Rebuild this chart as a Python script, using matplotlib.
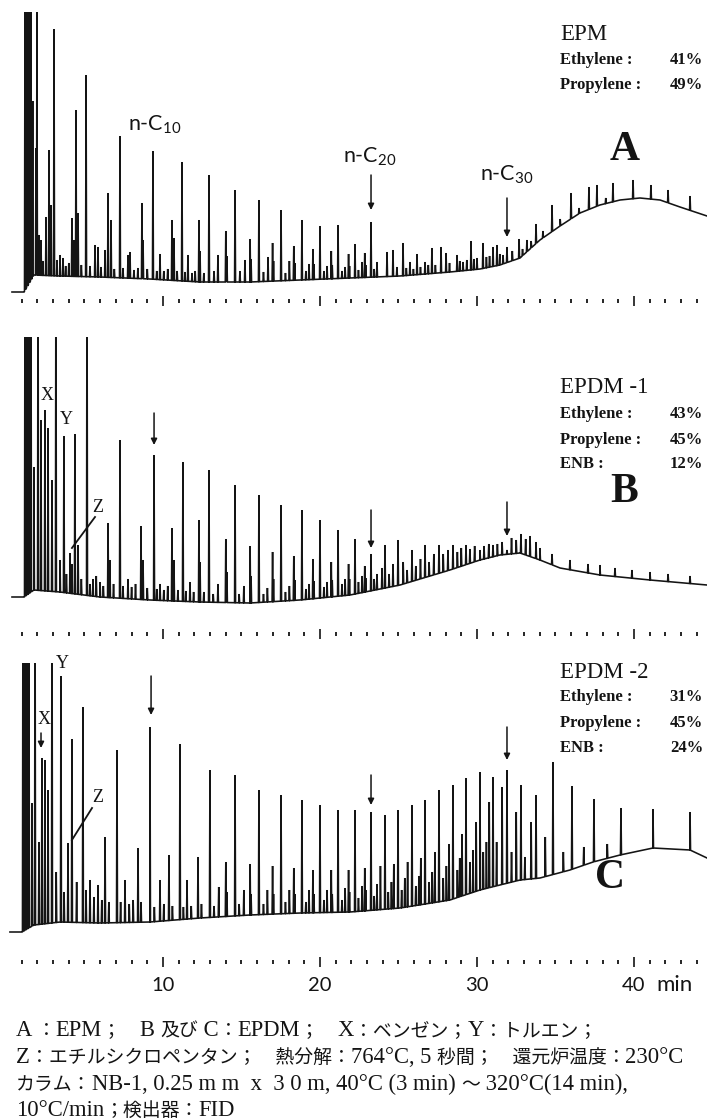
import numpy as np
import matplotlib
matplotlib.use("Agg")
import matplotlib.pyplot as plt
from matplotlib import transforms

plt.rcParams["mathtext.fontset"] = "custom"
plt.rcParams["mathtext.rm"] = "Lato"
plt.rcParams["mathtext.it"] = "Lato"

# ---------------- time axis (min) ----------------
tick_minutes = list(range(1, 45))
major_minutes = [10, 20, 30, 40]
major_labels = ["10", "20", "30", "40"]
time_unit = "min"

# ---------------- Panel A : EPM ----------------
A_base_t = [0.38, 1.15, 1.78, 3.44, 5.99, 9.17, 12.36, 15.54, 18.73, 21.91, 25.10, 28.28,
            30.19, 31.46, 32.74, 34.01, 35.29, 36.56, 37.83, 39.11, 40.38, 41.66, 42.93, 44.65]
A_base_s = [9, 9, 26, 25, 24, 22, 19, 19, 21, 23, 25, 29,
            32, 36, 43, 61, 75, 88, 96, 101, 103, 101, 94, 85]
A_peak_t = [1.21, 1.34, 1.46, 1.59, 1.70, 1.91, 1.97, 2.10, 2.23, 2.35, 2.55, 2.74, 2.87, 3.06,
            3.25, 3.44, 3.63, 3.80, 4.00, 4.20, 4.33, 4.46, 4.59, 4.80, 5.10, 5.35, 5.67, 5.86,
            6.05, 6.31, 6.50, 6.69, 6.90, 7.26, 7.45, 7.77, 7.90, 8.15, 8.40, 8.66, 8.73, 9.00,
            9.36, 9.60, 9.81, 10.05, 10.30, 10.57, 10.70, 10.90, 11.21, 11.40, 11.59, 11.85,
            12.05, 12.29, 12.36, 12.60, 12.93, 13.25, 13.50,
            14.00, 14.07, 14.59, 14.90, 15.22, 15.55, 15.61, 16.11, 16.40, 16.69,
            16.98, 17.04, 17.52, 17.80, 18.05, 18.33, 18.39, 18.85, 19.10, 19.30,
            19.55, 19.61, 20.00, 20.25, 20.45, 20.72, 20.78, 21.15, 21.40, 21.60,
            21.82, 21.88, 22.23, 22.45, 22.68, 22.85, 22.91, 23.25, 23.45, 23.63,
            24.27, 24.65, 24.90, 25.29, 25.50, 25.73, 25.95, 26.18, 26.40, 26.69, 26.90, 27.13,
            27.35, 27.71, 28.03, 28.25, 28.73, 28.90, 29.11, 29.35, 29.62, 29.80, 30.00, 30.38,
            30.60, 30.80, 31.02, 31.27, 31.45, 31.66, 31.91, 32.25, 32.68, 32.90, 33.18, 33.45,
            33.76, 34.20, 34.78, 35.30, 35.99, 36.50, 37.13, 37.64, 38.20, 38.66, 39.94, 41.08,
            42.17, 43.57]
A_peak_s = [320, 320, 320, 320, 200, 153, 290, 66, 61, 40, 84, 151, 96, 272,
            41, 46, 43, 35, 38, 83, 61, 191, 88, 36, 226, 35, 56, 54,
            34, 51, 108, 81, 32, 165, 33, 46, 49, 31, 33, 98, 61, 32,
            150, 30, 47, 30, 32, 81, 63, 30, 139, 29, 46, 28,
            30, 81, 50, 28, 126, 30, 46,
            70, 45, 111, 30, 41, 62, 42, 101, 29, 44,
            58, 40, 91, 28, 40, 55, 38, 81, 30, 37,
            52, 37, 75, 30, 35, 50, 36, 76, 30, 34,
            47, 35, 57, 31, 39, 48, 36, 79, 32, 39,
            49, 51, 34, 58, 33, 39, 32, 47, 34, 39, 36, 53,
            36, 54, 48, 38, 46, 40, 39, 41, 60, 42, 43, 58,
            44, 45, 54, 56, 47, 46, 54, 50, 62, 52, 61, 60,
            77, 70, 96, 82, 108, 93, 114, 116, 103, 118, 121, 116,
            111, 105]

# ---------------- Panel B : EPDM-1 ----------------
B_base_t = [0.38, 1.15, 1.78, 3.44, 5.99, 9.17, 12.36, 15.54, 18.73, 21.91, 25.10, 28.28,
            30.19, 31.46, 32.74, 34.01, 35.29, 37.83, 41.02, 44.65]
B_base_s = [37, 37, 44, 42, 37, 34, 32, 31, 34, 39, 49, 64,
            74, 79, 81, 74, 66, 59, 54, 49]
B_peak_t = [1.21, 1.34, 1.46, 1.59, 1.78, 2.04, 2.23, 2.48, 2.68, 2.93, 3.18, 3.44, 3.69, 3.85,
            4.08, 4.20, 4.39, 4.59, 4.80, 5.16, 5.35, 5.54, 5.75, 5.99, 6.20, 6.50, 6.62, 6.85,
            7.26, 7.45, 7.77, 8.00, 8.25, 8.60, 8.73, 9.00, 9.43, 9.60, 9.81, 10.05, 10.30,
            10.57, 10.70, 10.95, 11.27, 11.45, 11.72, 11.95, 12.29, 12.36, 12.60, 12.93, 13.20,
            13.50,
            14.00, 14.07, 14.59, 14.85, 15.15, 15.55, 15.61, 16.11, 16.40, 16.65,
            16.98, 17.04, 17.52, 17.80, 18.05, 18.33, 18.39, 18.85, 19.10, 19.30,
            19.55, 19.61, 20.00, 20.25, 20.45, 20.72, 20.78, 21.15, 21.40, 21.60,
            21.82, 21.88, 22.23, 22.45, 22.68, 22.85, 22.91, 23.25, 23.45, 23.63,
            23.95, 24.14, 24.40, 24.65, 24.97, 25.30, 25.55, 25.86, 26.10, 26.40, 26.69, 26.95,
            27.25, 27.58, 27.85, 28.15, 28.47, 28.75, 29.00, 29.30, 29.55, 29.85, 30.19, 30.45,
            30.75, 31.02, 31.30, 31.60, 31.91, 32.20, 32.50, 32.80, 33.10, 33.38, 33.76,
            34.01, 34.78, 35.92, 37.07, 37.83, 38.79, 39.87, 41.02, 42.17, 43.57]
B_peak_s = [400, 400, 400, 400, 167, 400, 214, 224, 206, 154, 400, 74, 198, 60,
            81, 70, 200, 89, 55, 400, 50, 55, 58, 52, 48, 111, 74, 50,
            194, 48, 55, 47, 50, 108, 74, 46, 179, 45, 50, 44, 48,
            106, 74, 44, 172, 43, 52, 42, 114, 72, 42, 164, 40,
            50,
            95, 62, 149, 40, 48, 88, 58, 139, 40, 46,
            82, 55, 129, 42, 48, 78, 54, 124, 45, 50,
            75, 53, 114, 47, 52, 72, 54, 104, 50, 55,
            70, 55, 95, 52, 58, 68, 56, 80, 55, 60,
            66, 89, 60, 70, 94, 72, 64, 84, 68, 75, 89, 72,
            80, 89, 80, 84, 89, 82, 86, 89, 85, 88, 84, 88,
            90, 89, 90, 92, 84, 96, 94, 100, 95, 98, 92,
            86, 80, 74, 70, 69, 66, 64, 62, 60, 58]

# ---------------- Panel C : EPDM-2 ----------------
C_base_t = [0.25, 1.02, 1.78, 3.44, 5.99, 9.17, 12.36, 15.54, 18.73, 21.91, 25.10, 28.28,
            30.19, 31.46, 32.74, 34.01, 35.92, 37.39, 39.11, 41.21, 43.57, 44.65]
C_base_s = [30, 30, 37, 40, 39, 40, 44, 47, 49, 50, 54, 62,
            72, 77, 82, 84, 92, 100, 107, 114, 112, 104]
C_peak_t = [1.08, 1.21, 1.34, 1.46, 1.66, 1.85, 2.10, 2.29, 2.48, 2.68, 2.93, 3.20, 3.50, 3.70,
            3.95, 4.20, 4.50, 4.90, 5.10, 5.35, 5.60, 5.86, 6.10, 6.31, 6.55, 7.07, 7.30, 7.58,
            7.85, 8.10, 8.41, 8.60, 9.17, 9.45, 9.81, 10.05, 10.38, 10.60, 11.08, 11.30, 11.53,
            11.80, 12.23, 12.45, 12.99, 13.25, 13.55,
            14.00, 14.07, 14.59, 14.85, 15.15, 15.55, 15.61, 16.11, 16.40, 16.65,
            16.98, 17.04, 17.52, 17.80, 18.05, 18.33, 18.39, 18.85, 19.10, 19.30,
            19.55, 19.61, 20.00, 20.25, 20.45, 20.72, 20.78, 21.15, 21.40, 21.60,
            21.82, 21.88, 22.23, 22.45, 22.68, 22.85, 22.91, 23.25, 23.45, 23.63,
            23.85, 24.14, 24.35, 24.55, 24.70, 24.97, 25.20, 25.40, 25.58, 25.86, 26.10, 26.30,
            26.42, 26.69, 26.95, 27.15, 27.32, 27.58, 27.85, 28.05, 28.22, 28.47, 28.75, 28.90,
            29.05, 29.30, 29.55, 29.75, 29.95, 30.19, 30.40, 30.60, 30.78, 31.02, 31.25, 31.60,
            31.91, 32.20, 32.50, 32.80, 33.05, 33.45, 33.76,
            34.35, 34.84, 35.50, 36.05, 36.80, 37.45, 38.30, 39.17, 41.21, 43.57]
C_peak_s = [400, 400, 400, 400, 159, 400, 120, 204, 202, 172, 400, 90, 286, 70,
            119, 223, 80, 255, 72, 82, 65, 77, 62, 125, 60, 212, 60, 82,
            58, 62, 114, 60, 235, 55, 82, 58, 107, 56, 218, 55, 82,
            56, 105, 58, 192, 56, 75,
            100, 70, 187, 58, 72, 98, 68, 172, 58, 72,
            96, 68, 167, 60, 72, 94, 68, 162, 60, 72,
            92, 68, 157, 62, 72, 92, 68, 152, 62, 74,
            92, 70, 152, 64, 76, 94, 72, 150, 66, 78,
            96, 147, 70, 80, 98, 152, 72, 84, 100, 157, 76, 86,
            104, 162, 80, 90, 110, 172, 84, 96, 118, 177, 92, 104,
            128, 184, 100, 112, 140, 190, 110, 120, 160, 185, 120, 175,
            192, 110, 150, 177, 105, 140, 167,
            125, 200, 110, 176, 115, 163, 118, 154, 153, 150]

# ---------------- composition legends ----------------
panel_names = ["EPM", "EPDM -1", "EPDM -2"]
panel_letters = ["A", "B", "C"]
comp_labels = [["Ethylene :", "Propylene :"],
               ["Ethylene :", "Propylene :", "ENB :"],
               ["Ethylene :", "Propylene :", "ENB :"]]
comp_values = [["41%", "49%"], ["43%", "45%", "12%"], ["31%", "45%", "24%"]]

caption_lines = [
    "A ：EPM；　B 及び C：EPDM；　X：ベンゼン；Y：トルエン；",
    "Z：エチルシクロペンタン；　熱分解：764°C, 5 秒間；　還元炉温度：230°C",
    "カラム：NB-1, 0.25 m m  x  3 0 m, 40°C (3 min) ～ 320°C(14 min),",
    "10°C/min；検出器：FID",
]

# ---------------- figure ----------------
W, H, DPI = 707, 1120, 100
fig = plt.figure(figsize=(W / DPI, H / DPI), dpi=DPI)
fig.patch.set_facecolor("white")

XMIN, XMAX = -0.382, 44.65
ink = "#141414"
frames = [(12, 301), (337, 634), (663, 962)]   # (top, bottom) pixel rows of each panel


def make_axes(top, bot):
    ax = fig.add_axes([0, 1 - bot / H, 1, (bot - top) / H])
    ax.set_xlim(XMIN, XMAX)
    ax.set_ylim(0, bot - top)
    for sp in ax.spines.values():
        sp.set_visible(False)
    ax.set_yticks([])
    ax.set_xticks(major_minutes)
    ax.set_xticks([m for m in tick_minutes if m not in major_minutes], minor=True)
    ax.tick_params(axis="x", which="minor", direction="inout", length=3.5, width=1.3, color=ink)
    ax.tick_params(axis="x", which="major", direction="inout", length=7, width=1.2, color=ink)
    ax.set_xticklabels([])
    ax.patch.set_alpha(0)
    return ax


def draw_trace(ax, bt, bs, pt, ps, w=0.032):
    pts = list(zip(bt, bs))
    for t, s in zip(pt, ps):
        b0 = float(np.interp(t - w, bt, bs))
        b1 = float(np.interp(t + w, bt, bs))
        pts += [(t - w, b0), (t, s), (t + w, b1)]
    pts.sort(key=lambda p: p[0])
    xs, ys = zip(*pts)
    ax.plot(xs, ys, color=ink, lw=1.15, solid_joinstyle="miter")


axes = [make_axes(*f) for f in frames]
data = [(A_base_t, A_base_s, A_peak_t, A_peak_s),
        (B_base_t, B_base_s, B_peak_t, B_peak_s),
        (C_base_t, C_base_s, C_peak_t, C_peak_s)]
for ax, d in zip(axes, data):
    draw_trace(ax, *d)

serif = "Liberation Serif"
sans = "Lato"
cjk = "Noto Sans CJK JP"

legend_rows = [[266, 241, 216], [246, 220, 194, 170], [290, 265, 239, 214]]
letter_pos = [(39.4, 151), (39.4, 142), (38.5, 84)]
for i, ax in enumerate(axes):
    rows = legend_rows[i]
    ax.text(35.3, rows[0], panel_names[i], family=serif, fontsize=16.5,
            ha="left", va="center", color=ink, clip_on=False)
    for j, (lab, val) in enumerate(zip(comp_labels[i], comp_values[i])):
        ax.text(35.3, rows[j + 1], lab, family=serif, fontsize=12, fontweight="bold",
                ha="left", va="center", color=ink, clip_on=False)
        ax.text(44.4, rows[j + 1], val, family=serif, fontsize=12, fontweight="bold",
                ha="right", va="center", color=ink, clip_on=False)
    ax.text(*letter_pos[i], panel_letters[i], family=serif, fontsize=30, fontweight="bold",
            ha="center", va="center", color=ink, clip_on=False)

axA, axB, axC = axes
axA.text(9.49, 176, "n-C$_{10}$", fontsize=15.5, family=sans, ha="center", va="center", color=ink)
axA.text(23.18, 144, "n-C$_{20}$", fontsize=15.5, family=sans, ha="center", va="center", color=ink)
axA.text(31.91, 126, "n-C$_{30}$", fontsize=15.5, family=sans, ha="center", va="center", color=ink)


def arrow(ax, t, s0, s1):
    ax.annotate("", xy=(t, s1), xytext=(t, s0),
                arrowprops=dict(arrowstyle="-|>", color=ink, lw=1.1,
                                mutation_scale=9, shrinkA=0, shrinkB=0))


arrow(axA, 23.25, 126, 91)
arrow(axA, 31.91, 103, 64)
arrow(axB, 9.43, 221, 189)
arrow(axB, 23.25, 124, 86)
arrow(axB, 31.91, 132, 98)
arrow(axC, 9.24, 286, 247)
arrow(axC, 23.25, 187, 157)
arrow(axC, 31.91, 235, 202)
arrow(axC, 2.23, 229, 214)

for ax, lab, pos in [(axB, "X", (2.61, 238)), (axB, "Y", (3.82, 214)), (axB, "Z", (5.86, 126)),
                     (axC, "Y", (3.57, 299)), (axC, "X", (2.42, 242)), (axC, "Z", (5.86, 165))]:
    ax.text(*pos, lab, family=serif, fontsize=13, ha="center", va="center", color=ink,
            clip_on=False)
axB.plot([5.67, 4.20], [117, 86], color=ink, lw=1.3)
axC.plot([5.48, 4.20], [154, 122], color=ink, lw=1.3)

trans = transforms.blended_transform_factory(axC.transData, axC.transAxes)
for m, lab in zip(major_minutes, major_labels):
    axC.text(m, -0.077, lab, family=sans, fontsize=14.5, ha="center", va="center",
             transform=trans, color=ink)
axC.text(major_minutes[-1] + 1.4, -0.077, time_unit, family=sans, fontsize=16, ha="left",
         va="center", transform=trans, color=ink)


# caption: Latin runs in a serif face, Japanese runs in the CJK face
def split_runs(s):
    runs = []
    for ch in s:
        kind = ord(ch) >= 0x2E80
        if runs and runs[-1][0] == kind:
            runs[-1][1] += ch
        else:
            runs.append([kind, ch])
    return runs


fig.canvas.draw()
renderer = fig.canvas.get_renderer()
cap_base = [1036, 1063, 1090, 1116]
for yb, line in zip(cap_base, caption_lines):
    x = 16.0
    for kind, run in split_runs(line):
        if kind:
            t = fig.text(x / W, 1 - yb / H, run, family=cjk, fontsize=13.6,
                         ha="left", va="baseline", color=ink)
        else:
            t = fig.text(x / W, 1 - yb / H, run, family=serif, fontsize=16.3,
                         ha="left", va="baseline", color=ink)
        x += t.get_window_extent(renderer).width

fig.savefig("out.png", dpi=DPI, facecolor="white")
